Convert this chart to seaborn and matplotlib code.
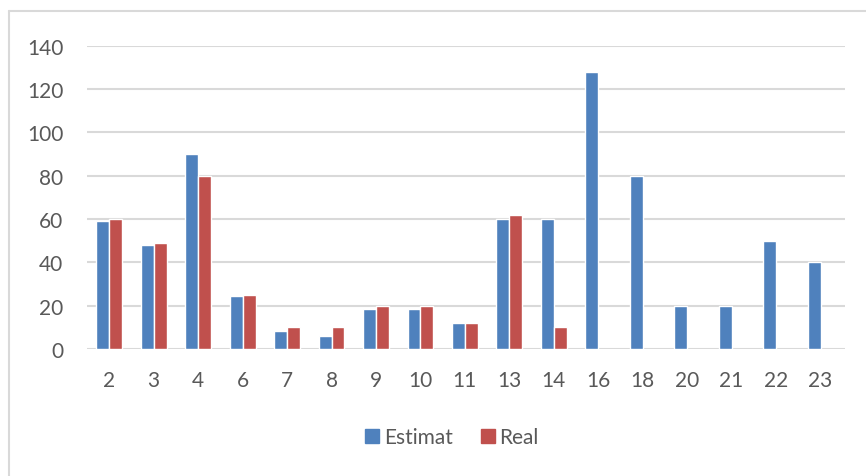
import matplotlib
matplotlib.use("Agg")
import matplotlib.pyplot as plt
from matplotlib.lines import Line2D
import numpy as np
import pandas as pd
import seaborn as sns

categories = ["2", "3", "4", "6", "7", "8", "9", "10", "11", "13", "14",
              "16", "18", "20", "21", "22", "23"]
estimat = [59, 48, 90, 24.5, 8.3, 6.2, 18.3, 18.3, 12, 60, 60,
           128, 80, 20, 20, 50, 40]
real = [60, 49, 80, 25, 10, 10, 20, 20, 12, 62, 10,
        np.nan, np.nan, np.nan, np.nan, np.nan, np.nan]
series_names = ["Estimat", "Real"]
yticks = [0, 20, 40, 60, 80, 100, 120, 140]

blue = "#4F81BD"
red = "#C0504D"
grid_col = "#D9D9D9"
text_col = "#595959"

df = pd.DataFrame({
    "cat": categories * 2,
    "value": estimat + real,
    "series": [series_names[0]] * len(categories) + [series_names[1]] * len(categories),
})

sns.set_theme(style="white")
plt.rcParams["font.family"] = ["Lato", "DejaVu Sans"]

fig = plt.figure(figsize=(8.66, 4.77), dpi=100)
ax = fig.add_axes([0.1005, 0.2662, 0.8752, 0.6359])

sns.barplot(data=df, x="cat", y="value", hue="series", order=categories,
            hue_order=series_names, palette=[blue, red], saturation=1,
            width=0.58, edgecolor="white", linewidth=1.0, ax=ax, legend=False)

ax.set_ylim(0, 140)
ax.set_xlim(-0.5, 16.55)
ax.set_yticks(yticks)
ax.set_yticklabels([str(t) for t in yticks])
for t in yticks:
    ax.axhline(t, color=grid_col, linewidth=1.5, zorder=0)
ax.set_axisbelow(True)
for s in ax.spines.values():
    s.set_visible(False)
ax.set_xlabel("")
ax.set_ylabel("")
ax.tick_params(axis="both", length=0, labelsize=15, colors=text_col)
ax.tick_params(axis="x", pad=15)
ax.tick_params(axis="y", pad=17)

handles = [Line2D([], [], marker="s", linestyle="none", markersize=10,
                  markerfacecolor=c, markeredgecolor=c) for c in (blue, red)]
fig.legend(handles, series_names, loc="center", bbox_to_anchor=(0.52, 0.082),
           ncol=2, frameon=False, fontsize=15, labelcolor=text_col,
           handletextpad=0.05, columnspacing=1.2, handlelength=1.0)

# chart area frame
fig.add_artist(Line2D([9 / 866, 1.0], [1 - 12 / 477, 1 - 12 / 477],
                      transform=fig.transFigure, color=grid_col, linewidth=1.5))
fig.add_artist(Line2D([9 / 866, 9 / 866], [0, 1 - 12 / 477],
                      transform=fig.transFigure, color=grid_col, linewidth=1.5))

fig.savefig("out.png", dpi=100, facecolor="white")
